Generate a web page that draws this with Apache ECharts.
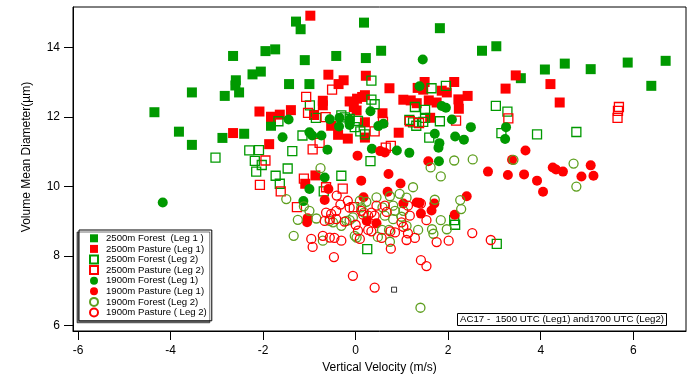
<!DOCTYPE html>
<html>
<head>
<meta charset="utf-8">
<script src="https://cdn.jsdelivr.net/npm/echarts@6/dist/echarts.min.js"></script>
<style>html,body{margin:0;padding:0;background:#fff}#c{width:689px;height:379px}</style>
</head>
<body>
<div id="c"></div>
<script>
// ---- data: [vertical velocity (m/s), volume mean diameter (µm)] ----
const forest2500Leg1 = [[-4.35,12.14],[-3.82,11.58],[-3.54,12.71],[-3.54,11.20],[-2.88,11.40],[-2.83,12.61],[-2.59,13.06],[-2.60,12.91],[-2.52,12.71],[-2.65,13.76],[-2.41,11.52],[-2.23,13.23],[-2.05,13.31],[-1.95,13.90],[-1.74,13.95],[-1.83,11.75],[-1.44,12.95],[-1.29,14.75],[-1.19,14.53],[-1.10,13.64],[-1.00,12.95],[-0.42,13.76],[0.18,14.72],[0.22,13.70],[0.55,13.91],[1.82,14.56],[2.73,13.91],[3.04,14.04],[3.57,13.12],[4.09,13.37],[4.52,13.54],[5.08,13.38],[5.88,13.57],[6.39,12.90],[6.70,13.62]];
const pasture2500Leg1 = [[-0.98,14.92],[-0.59,13.22],[-0.37,12.95],[-0.26,13.06],[0.22,13.19],[0.73,12.83],[-2.08,12.16],[-1.83,12.01],[-1.64,12.07],[-1.40,12.20],[-2.65,11.54],[-1.87,11.22],[-0.71,12.47],[-0.71,12.34],[-0.90,12.06],[-0.13,12.45],[0.03,12.53],[0.14,12.58],[0.20,12.63],[-0.04,12.29],[0.02,12.19],[0.20,11.85],[-0.53,11.75],[-0.38,11.49],[-0.17,11.38],[0.20,11.41],[0.58,12.11],[0.93,11.55],[1.03,12.50],[1.19,12.48],[1.32,12.40],[1.58,12.48],[1.75,12.42],[1.34,12.84],[1.49,13.01],[1.46,12.79],[1.86,12.76],[1.97,12.71],[2.13,13.01],[2.22,12.51],[2.42,12.61],[2.23,12.24],[1.61,11.98],[3.24,12.82],[3.46,13.20],[4.21,12.95],[4.41,12.42],[-0.87,10.32],[-1.09,10.08]];
const forest2500Leg2 = [[-3.03,10.83],[-2.30,11.04],[-2.09,11.05],[-2.18,10.74],[-2.03,10.62],[-2.15,10.43],[-1.73,10.31],[-1.64,10.08],[-1.47,10.52],[-1.37,11.02],[-1.67,11.88],[-1.15,11.47],[-0.99,12.34],[-0.86,11.98],[-0.31,12.05],[-0.23,11.99],[-0.13,11.95],[0.05,11.89],[-0.02,11.71],[0.10,11.59],[0.20,11.50],[0.34,13.05],[0.34,12.50],[0.41,12.37],[0.32,10.73],[-0.31,10.31],[-0.69,9.86],[0.25,8.20],[1.16,11.92],[1.24,11.85],[1.31,11.75],[1.46,11.86],[1.50,11.98],[1.28,12.29],[1.50,12.21],[1.64,12.83],[1.95,12.90],[1.82,11.88],[1.59,11.41],[3.03,12.32],[3.28,12.16],[3.15,11.54],[3.92,11.50],[4.77,11.57],[2.13,9.03],[2.15,8.90],[3.05,8.35]];
const pasture2500Leg2 = [[-1.07,12.58],[-0.51,12.79],[-1.03,12.12],[-0.65,12.00],[0.41,11.59],[0.59,11.86],[-0.93,11.07],[-0.78,11.26],[0.65,11.12],[0.76,11.17],[-1.95,10.75],[-2.07,10.05],[-1.62,9.86],[-1.12,10.23],[-0.64,9.98],[-0.28,9.94],[-1.27,9.41],[-0.04,9.41],[1.17,11.88],[1.37,11.83],[2.17,11.90],[3.30,11.96],[5.69,12.29],[5.67,12.18],[5.66,11.98]];
const forest1900Leg1 = [[-4.17,9.54],[-1.58,11.42],[-1.45,11.93],[-1.00,11.56],[-0.94,11.47],[-0.74,11.47],[-0.61,11.06],[-0.56,11.94],[-0.35,11.98],[-0.36,11.73],[-0.13,11.77],[-0.13,11.93],[0.32,12.17],[0.35,11.09],[0.49,11.74],[0.60,11.81],[0.89,11.04],[1.16,10.97],[1.45,13.66],[1.38,12.89],[1.86,12.32],[1.95,12.27],[2.08,11.93],[2.49,11.71],[1.71,11.52],[2.15,11.44],[2.34,11.35],[1.81,11.25],[1.79,11.12],[1.80,10.73],[3.25,11.71],[3.23,11.37],[-1.00,9.93],[-1.13,9.58],[-0.67,10.26]];
const pasture1900Leg1 = [[0.04,10.89],[0.53,11.02],[0.63,10.98],[0.71,10.36],[0.97,10.09],[0.12,10.17],[-0.59,9.93],[-0.67,9.61],[0.17,9.69],[0.69,9.85],[-1.04,9.09],[-1.05,8.97],[0.24,9.01],[0.45,8.94],[1.03,9.51],[1.32,9.54],[1.38,9.53],[1.41,9.22],[1.64,9.31],[1.70,9.51],[1.57,10.73],[2.40,9.72],[2.14,9.19],[2.86,10.43],[3.29,10.33],[3.67,11.04],[3.38,10.77],[3.64,10.35],[3.92,10.17],[4.05,9.85],[4.26,10.55],[4.33,10.49],[4.48,10.43],[4.88,10.29],[5.08,10.61],[5.14,10.31]];
const forest1900Leg2 = [[-1.50,9.64],[-1.34,8.58],[-1.25,9.04],[-1.12,9.43],[-1.00,9.30],[-0.85,9.08],[-0.76,10.53],[-0.71,8.44],[-0.56,9.01],[-0.49,8.97],[-0.31,8.87],[-0.20,9.01],[-0.13,9.03],[-0.06,9.11],[-0.02,8.58],[0.02,8.53],[0.09,9.59],[0.12,9.40],[0.23,9.56],[0.18,9.25],[0.45,9.69],[0.48,8.55],[0.58,9.40],[0.57,8.75],[0.63,9.16],[0.72,8.75],[0.74,9.72],[0.74,8.41],[0.81,9.45],[0.81,9.06],[0.85,9.30],[0.95,9.79],[0.99,9.13],[1.03,9.30],[1.10,9.68],[1.10,8.87],[1.24,9.98],[1.35,8.75],[1.40,6.51],[1.62,10.55],[1.65,8.77],[1.68,8.64],[1.71,9.62],[1.84,10.29],[1.84,9.03],[1.97,8.77],[2.13,10.75],[2.26,9.61],[2.28,9.35],[2.53,10.78],[3.41,10.77],[4.71,10.66],[4.77,10.00]];
const pasture1900Leg2 = [[-0.96,8.49],[-0.93,8.26],[-0.71,8.58],[-0.56,8.53],[-0.46,8.52],[-0.31,8.44],[-0.47,7.97],[-0.06,7.43],[0.41,7.09],[-0.64,9.25],[-0.53,9.21],[-0.42,9.30],[-0.33,9.48],[-0.67,9.01],[-0.56,9.06],[-0.42,9.06],[-0.24,8.99],[-0.13,9.39],[0.05,8.73],[0.09,8.49],[0.12,9.30],[0.16,9.19],[0.27,9.16],[0.34,9.25],[0.41,9.16],[0.45,9.45],[0.63,9.45],[0.67,9.27],[0.27,8.75],[0.34,8.71],[0.56,8.52],[0.75,8.71],[0.85,8.68],[0.76,8.21],[0.99,8.97],[1.03,8.84],[1.13,8.65],[1.10,8.46],[1.28,8.52],[1.17,9.16],[1.13,9.45],[1.41,9.51],[1.53,9.03],[1.75,8.40],[2.01,8.44],[2.52,8.66],[2.92,8.46],[1.41,7.88],[1.53,7.71],[-0.41,9.74],[-0.17,9.59],[0.00,8.90]];
const extraPoint = [[0.83,7.03]];

const legendNames = ['2500m Forest  (Leg 1 )','2500m Pasture (Leg 1)','2500m Forest (Leg 2)','2500m Pasture (Leg 2)','1900m Forest (Leg 1)','1900m Pasture (Leg 1)','1900m Forest (Leg 2)','1900m Pasture ( Leg 2)'];
const xTicks = [-6,-4,-2,0,2,4,6];
const yTicks = [6,8,10,12,14];
const noteText = 'AC17 -  1500 UTC (Leg1) and1700 UTC (Leg2)';

const GREEN = '#009900', RED = '#ff0000', OLIVE = '#5e9f1f';
function filled(name, data, symbol, color, size){
  return {name, type:'scatter', data, symbol, symbolSize:size, itemStyle:{color, opacity:1}, emphasis:{disabled:true}};
}
function hollow(name, data, symbol, color, size){
  return {name, type:'scatter', data, symbol, symbolSize:size, itemStyle:{color:'transparent', borderColor:color, borderWidth:1.3, opacity:1}, emphasis:{disabled:true}};
}

const chart = echarts.init(document.getElementById('c'), null, {renderer:'canvas'});
const font = 'Liberation Sans, Arial, sans-serif';
chart.setOption({
  animation:false,
  textStyle:{fontFamily:font},
  grid:{left:73, right:3, top:7, bottom:48, show:true, borderColor:'#000', borderWidth:1, backgroundColor:'transparent'},
  xAxis:{type:'value', min:-6.11, max:7.14,
    name:'Vertical Velocity (m/s)', nameLocation:'middle', nameGap:31,
    nameTextStyle:{fontSize:12, color:'#000', fontFamily:font},
    axisLine:{show:true, onZero:false, lineStyle:{color:'#000', width:1}},
    axisTick:{show:true, inside:false, length:9, lineStyle:{color:'#000'}, customValues:xTicks},
    axisLabel:{fontSize:12, color:'#000', margin:14, customValues:xTicks, fontFamily:font},
    splitLine:{show:false}},
  yAxis:{type:'value', min:5.84, max:15.17,
    name:'Volume Mean Diameter(µm)', nameLocation:'middle', nameGap:40,
    nameTextStyle:{fontSize:12, color:'#000', fontFamily:font, padding:[0,0,0,24]},
    axisLine:{show:true, onZero:false, lineStyle:{color:'#000', width:1}},
    axisTick:{show:true, inside:false, length:9, lineStyle:{color:'#000'}, customValues:yTicks},
    axisLabel:{fontSize:12, color:'#000', margin:13, customValues:yTicks, fontFamily:font},
    splitLine:{show:false}},
  legend:{orient:'vertical', left:79, top:230, data:legendNames,
    itemWidth:8, itemHeight:8, itemGap:0,
    padding:[3,5,3,10],
    backgroundColor:'#fff', borderColor:'#000', borderWidth:1,
    shadowColor:'rgba(0,0,0,0.55)', shadowOffsetX:-2, shadowOffsetY:2, shadowBlur:0,
    selectedMode:false,
    textStyle:{fontSize:9.6, color:'#000', lineHeight:10.6, fontFamily:font, padding:[0,0,0,3]}},
  title:{text:noteText, left:457, top:313, padding:[1,3,1,3], borderColor:'#000', borderWidth:1, backgroundColor:'#fff',
    textStyle:{fontSize:9.7, fontWeight:'normal', color:'#000', fontFamily:font, lineHeight:11}},
  series:[
    filled(legendNames[0], forest2500Leg1, 'rect', GREEN, 10),
    filled(legendNames[1], pasture2500Leg1, 'rect', RED, 10),
    hollow(legendNames[2], forest2500Leg2, 'rect', GREEN, 9),
    hollow(legendNames[3], pasture2500Leg2, 'rect', RED, 9),
    filled(legendNames[4], forest1900Leg1, 'circle', GREEN, 10),
    filled(legendNames[5], pasture1900Leg1, 'circle', RED, 10),
    hollow(legendNames[6], forest1900Leg2, 'circle', OLIVE, 9),
    hollow(legendNames[7], pasture1900Leg2, 'circle', RED, 9),
    {name:'extra', type:'scatter', data:extraPoint, symbol:'rect', symbolSize:5, itemStyle:{color:'transparent', borderColor:'#000', borderWidth:1}, emphasis:{disabled:true}}
  ]
});
</script>
</body>
</html>
